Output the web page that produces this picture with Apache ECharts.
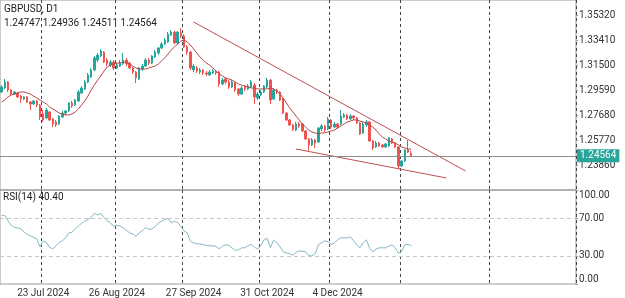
<!DOCTYPE html>
<html lang="en">
<head>
  <meta charset="UTF-8">
  <title>GBPUSD D1</title>
  <script src="https://cdn.jsdelivr.net/npm/echarts@6/dist/echarts.min.js"></script>
  <style>
    body { margin: 0; padding: 0; background: #fff; }
    #chart { width: 625px; height: 298px; }
  </style>
</head>
<body>
  <div id="chart"></div>
  <script>
    // daily candles [open, close, low, high]
    const candles = [
      [1.2944,1.2982,1.2936,1.2997],[1.2974,1.3020,1.2967,1.3043],[1.3020,1.2959,1.2944,1.3028],[1.2959,1.2928,1.2921,1.2967],
      [1.2928,1.2944,1.2921,1.2951],[1.2936,1.2906,1.2898,1.2944],[1.2913,1.2890,1.2860,1.2921],[1.2890,1.2906,1.2883,1.2913],
      [1.2906,1.2867,1.2860,1.2913],[1.2867,1.2852,1.2806,1.2875],[1.2852,1.2875,1.2844,1.2883],[1.2875,1.2844,1.2829,1.2883],
      [1.2844,1.2753,1.2730,1.2852],[1.2776,1.2730,1.2715,1.2806],[1.2745,1.2806,1.2738,1.2822],[1.2791,1.2730,1.2722,1.2799],
      [1.2738,1.2699,1.2676,1.2745],[1.2715,1.2692,1.2676,1.2730],[1.2699,1.2760,1.2692,1.2768],[1.2753,1.2783,1.2745,1.2799],
      [1.2783,1.2799,1.2768,1.2806],[1.2799,1.2860,1.2791,1.2867],[1.2860,1.2837,1.2822,1.2875],[1.2844,1.2883,1.2837,1.2890],
      [1.2875,1.2944,1.2867,1.2959],[1.2936,1.2974,1.2928,1.2989],[1.2967,1.3020,1.2959,1.3035],[1.3020,1.3074,1.3012,1.3089],
      [1.3058,1.3112,1.3051,1.3127],[1.3112,1.3204,1.3104,1.3219],[1.3188,1.3226,1.3173,1.3242],[1.3219,1.3257,1.3211,1.3272],
      [1.3249,1.3173,1.3165,1.3257],[1.3188,1.3158,1.3142,1.3204],[1.3150,1.3173,1.3135,1.3188],[1.3173,1.3127,1.3112,1.3188],
      [1.3127,1.3150,1.3119,1.3165],[1.3142,1.3165,1.3135,1.3188],[1.3158,1.3188,1.3150,1.3242],[1.3188,1.3158,1.3142,1.3204],
      [1.3165,1.3127,1.3119,1.3173],[1.3127,1.3096,1.3081,1.3135],[1.3096,1.3051,1.3012,1.3104],[1.3043,1.3127,1.3035,1.3135],
      [1.3119,1.3142,1.3104,1.3158],[1.3142,1.3188,1.3135,1.3204],[1.3188,1.3165,1.3150,1.3204],[1.3165,1.3219,1.3158,1.3226],
      [1.3211,1.3249,1.3204,1.3265],[1.3242,1.3280,1.3226,1.3288],[1.3280,1.3310,1.3272,1.3326],[1.3310,1.3341,1.3303,1.3356],
      [1.3326,1.3387,1.3318,1.3402],[1.3379,1.3402,1.3372,1.3417],[1.3402,1.3318,1.3310,1.3410],[1.3318,1.3402,1.3310,1.3410],
      [1.3395,1.3372,1.3356,1.3433],[1.3372,1.3288,1.3280,1.3387],[1.3288,1.3249,1.3226,1.3303],[1.3249,1.3127,1.3112,1.3257],
      [1.3112,1.3142,1.3096,1.3158],[1.3127,1.3104,1.3089,1.3142],[1.3096,1.3112,1.3081,1.3127],[1.3112,1.3089,1.3074,1.3119],
      [1.3089,1.3081,1.3066,1.3104],[1.3074,1.3096,1.3066,1.3112],[1.3089,1.3104,1.3081,1.3119],[1.3096,1.3089,1.3074,1.3112],
      [1.3096,1.3005,1.2982,1.3104],[1.3005,1.3035,1.2997,1.3051],[1.3043,1.3020,1.3005,1.3058],[1.3020,1.2982,1.2967,1.3035],
      [1.2982,1.3020,1.2974,1.3035],[1.3012,1.2959,1.2944,1.3020],[1.2967,1.2928,1.2913,1.2974],[1.2928,1.2974,1.2921,1.2989],
      [1.2982,1.2967,1.2951,1.2997],[1.2967,1.2989,1.2959,1.3005],[1.2982,1.3020,1.2974,1.3035],[1.2997,1.2906,1.2852,1.3012],
      [1.2898,1.2928,1.2883,1.2944],[1.2921,1.2944,1.2913,1.2959],[1.2944,1.2989,1.2936,1.2997],[1.2982,1.3035,1.2974,1.3051],
      [1.3035,1.2883,1.2852,1.3043],[1.2890,1.2959,1.2883,1.2974],[1.2959,1.2944,1.2928,1.2967],[1.2944,1.2883,1.2875,1.2951],
      [1.2890,1.2783,1.2776,1.2898],[1.2783,1.2730,1.2722,1.2791],[1.2730,1.2692,1.2684,1.2738],[1.2692,1.2661,1.2646,1.2699],
      [1.2653,1.2699,1.2646,1.2715],[1.2699,1.2684,1.2669,1.2715],[1.2699,1.2646,1.2638,1.2707],[1.2646,1.2585,1.2577,1.2653],
      [1.2585,1.2539,1.2493,1.2592],[1.2539,1.2577,1.2531,1.2592],[1.2577,1.2554,1.2516,1.2585],[1.2562,1.2669,1.2554,1.2676],
      [1.2661,1.2684,1.2646,1.2699],[1.2684,1.2653,1.2638,1.2692],[1.2661,1.2738,1.2653,1.2753],[1.2730,1.2676,1.2661,1.2738],
      [1.2676,1.2699,1.2669,1.2715],[1.2699,1.2676,1.2661,1.2707],[1.2699,1.2760,1.2692,1.2806],[1.2753,1.2768,1.2745,1.2783],
      [1.2768,1.2738,1.2730,1.2776],[1.2738,1.2760,1.2730,1.2776],[1.2760,1.2745,1.2730,1.2768],[1.2745,1.2707,1.2699,1.2753],
      [1.2707,1.2623,1.2615,1.2715],[1.2631,1.2699,1.2623,1.2715],[1.2692,1.2715,1.2676,1.2730],[1.2715,1.2569,1.2562,1.2722],
      [1.2569,1.2516,1.2501,1.2577],[1.2524,1.2554,1.2516,1.2569],[1.2554,1.2531,1.2524,1.2562],[1.2539,1.2524,1.2516,1.2547],
      [1.2524,1.2547,1.2516,1.2554],[1.2531,1.2592,1.2524,1.2600],[1.2585,1.2554,1.2547,1.2592],[1.2554,1.2524,1.2516,1.2562],
      [1.2524,1.2378,1.2355,1.2531],[1.2378,1.2417,1.2371,1.2424],[1.2417,1.2501,1.2409,1.2508],[1.2501,1.2485,1.2478,1.2577],
      [1.24747,1.24564,1.24511,1.24936]
    ];

    // moving average drawn over the candles
    const ma = [
      1.2867,1.2883,1.2906,1.2921,1.2928,1.2936,1.2944,1.2944,1.2936,1.2928,1.2913,1.2898,1.2883,1.2867,1.2852,1.2829,
      1.2814,1.2799,1.2783,1.2776,1.2768,1.2768,1.2776,1.2791,1.2814,1.2844,1.2875,1.2913,1.2959,1.2997,1.3035,1.3066,
      1.3104,1.3135,1.3150,1.3158,1.3165,1.3165,1.3173,1.3173,1.3158,1.3142,1.3127,1.3119,1.3119,1.3119,1.3127,1.3135,
      1.3142,1.3158,1.3181,1.3204,1.3234,1.3265,1.3288,1.3310,1.3333,1.3341,1.3326,1.3303,1.3272,1.3242,1.3211,1.3188,
      1.3165,1.3150,1.3127,1.3104,1.3081,1.3066,1.3051,1.3043,1.3035,1.3020,1.3005,1.2997,1.2989,1.2982,1.2974,1.2974,
      1.2967,1.2967,1.2967,1.2967,1.2974,1.2967,1.2951,1.2928,1.2898,1.2860,1.2822,1.2791,1.2760,1.2730,1.2699,1.2676,
      1.2653,1.2638,1.2631,1.2623,1.2631,1.2631,1.2638,1.2646,1.2653,1.2669,1.2684,1.2699,1.2715,1.2722,1.2730,1.2730,
      1.2722,1.2715,1.2707,1.2692,1.2676,1.2653,1.2623,1.2600,1.2585,1.2569,1.2562,1.2554,1.2539,1.2524,1.2516,1.2508,
      1.2508
    ];

    // RSI(14)
    const rsi = [
      73.0,73.0,67.1,62.4,60.2,59.7,58.6,55.5,52.8,51.2,49.6,48.0,39.5,45.9,44.3,39.0,
      37.4,40.6,44.3,45.9,49.1,54.4,54.9,58.6,61.8,64.5,66.6,68.7,70.8,75.1,73.5,75.1,
      70.8,67.1,65.0,61.3,62.4,61.8,59.7,57.1,54.4,53.3,50.7,54.4,56.5,60.2,58.1,58.6,
      61.3,65.0,66.6,68.7,69.8,65.0,66.6,65.5,61.3,56.5,54.4,45.4,43.8,42.7,42.7,41.7,
      41.1,40.6,40.6,40.1,37.4,40.1,41.7,41.1,38.5,35.8,36.4,38.5,38.5,40.6,42.2,39.0,
      37.4,40.6,47.0,48.6,38.5,46.4,44.3,39.5,34.2,33.2,32.1,30.5,33.7,35.3,34.8,34.2,
      30.0,30.0,32.1,41.7,43.8,45.9,44.9,42.2,43.8,47.0,49.1,49.1,49.1,50.2,45.9,41.7,
      38.5,43.8,47.0,38.0,34.2,37.4,38.5,38.5,38.5,40.1,41.7,38.5,32.7,34.8,41.7,42.2,
      40.40
    ];

    // wedge trend lines: [bar index, price]
    const upperLine = [[60, 1.34785], [145, 1.23402]];
    const lowerLine = [[92, 1.25082], [139, 1.22867]];

    const priceTicks = [1.23860, 1.25770, 1.27680, 1.29590, 1.31500, 1.33410, 1.35320];
    const rsiTicks = [0, 30, 70, 100];
    const rsiLevels = [30, 70];
    const dateLabels = { 13: '23 Jul 2024', 36: '26 Aug 2024', 60: '27 Sep 2024', 83: '31 Oct 2024', 105: '4 Dec 2024' };
    const monthSeps = [13, 36, 57, 81, 103, 125, 153];
    const totalSlots = 180;

    const lastClose = candles[candles.length - 1][1];
    const slots = Array.from({ length: totalSlots }, (_, i) => String(i));

    function segment(points) {
      const arr = new Array(totalSlots).fill(null);
      points.forEach(p => { arr[p[0]] = p[1]; });
      return arr;
    }

    const upColor = '#26a69a';
    const downColor = '#ef5350';
    const font = 'Roboto';

    const chart = echarts.init(document.getElementById('chart'), null, { renderer: 'canvas' });

    const sepLine = {
      show: true,
      interval: function (index) { return monthSeps.indexOf(index) >= 0; },
      lineStyle: { color: '#444', type: [3, 3], width: 1 }
    };

    const option = {
      animation: false,
      backgroundColor: '#fff',
      textStyle: { fontFamily: font },
      graphic: [
        { type: 'text', left: 4, top: 4, style: { text: 'GBPUSD, D1', fill: '#222', font: '10px Roboto' } },
        { type: 'text', left: 4, top: 18, style: { text: '1.24747 1.24936 1.24511 1.24564', fill: '#222', font: '10px Roboto' } },
        { type: 'text', left: 3, top: 192, style: { text: 'RSI(14) ' + rsi[rsi.length - 1].toFixed(2), fill: '#222', font: '10px Roboto' } }
      ],
      grid: [
        { left: 0, top: 0, width: 576, height: 190, show: true, borderColor: '#999', borderWidth: 1 },
        { left: 0, top: 190, width: 576, height: 94, show: true, borderColor: '#999', borderWidth: 1 }
      ],
      xAxis: [
        {
          type: 'category', gridIndex: 0, data: slots, boundaryGap: true,
          axisLine: { show: false }, axisTick: { show: false }, axisLabel: { show: false },
          splitLine: sepLine
        },
        {
          type: 'category', gridIndex: 1, data: slots, boundaryGap: true,
          axisLine: { show: false }, axisTick: { show: false },
          axisLabel: {
            interval: function (index) { return dateLabels[index] !== undefined; },
            formatter: function (v, idx) { return dateLabels[idx] || ''; },
            color: '#333', fontSize: 10, fontFamily: font, margin: 4
          },
          splitLine: sepLine
        }
      ],
      yAxis: [
        {
          type: 'value', gridIndex: 0, position: 'right', scale: true,
          min: 1.21950, max: 1.36466,
          axisLine: { show: false },
          axisTick: { show: true, length: 2, customValues: priceTicks, lineStyle: { color: '#999' } },
          axisLabel: {
            customValues: priceTicks, margin: 3, color: '#333', fontSize: 10, fontFamily: font,
            formatter: function (v) { return v.toFixed(5); }
          },
          splitLine: { show: false }
        },
        {
          type: 'value', gridIndex: 1, position: 'right', min: 0, max: 100,
          axisLine: { show: false },
          axisTick: { show: true, length: 2, customValues: rsiTicks, lineStyle: { color: '#999' } },
          axisLabel: {
            customValues: rsiTicks, margin: 3, color: '#333', fontSize: 10, fontFamily: font,
            formatter: function (v) {
              if (v === 100) return '{t|100.00}';
              if (v === 0) return '{b|0.00}';
              return v.toFixed(2);
            },
            rich: {
              t: { padding: [10, 0, 0, 0], color: '#333', fontSize: 10, fontFamily: font },
              b: { padding: [0, 0, 10, 0], color: '#333', fontSize: 10, fontFamily: font }
            }
          },
          splitLine: { show: false }
        }
      ],
      series: [
        {
          name: 'GBPUSD', type: 'candlestick', xAxisIndex: 0, yAxisIndex: 0,
          data: candles, barWidth: 2,
          itemStyle: { color: upColor, color0: downColor, borderColor: upColor, borderColor0: downColor, borderWidth: 1 },
          markLine: {
            silent: true, symbol: ['none', 'none'], animation: false, precision: 5,
            lineStyle: { color: '#8c8c8c', width: 1, type: 'solid' },
            label: {
              show: true, position: 'end', distance: 1,
              formatter: function () { return lastClose.toFixed(5); },
              backgroundColor: upColor, color: '#fff', padding: [2, 3, 1, 3], fontSize: 10, fontFamily: font
            },
            data: [{ yAxis: lastClose }]
          }
        },
        {
          name: 'MA', type: 'line', xAxisIndex: 0, yAxisIndex: 0, data: ma,
          symbol: 'none', lineStyle: { color: '#b54848', width: 1 }
        },
        {
          name: 'upper', type: 'line', xAxisIndex: 0, yAxisIndex: 0, data: segment(upperLine),
          connectNulls: true, symbol: 'none', lineStyle: { color: '#c0504d', width: 1 }
        },
        {
          name: 'lower', type: 'line', xAxisIndex: 0, yAxisIndex: 0, data: segment(lowerLine),
          connectNulls: true, symbol: 'none', lineStyle: { color: '#c0504d', width: 1 }
        },
        {
          name: 'RSI', type: 'line', xAxisIndex: 1, yAxisIndex: 1, data: rsi,
          symbol: 'none', lineStyle: { color: '#86b8c4', width: 1 },
          markLine: {
            silent: true, symbol: ['none', 'none'], animation: false, label: { show: false },
            lineStyle: { color: '#c8c8c8', type: [4, 3], width: 1 },
            data: rsiLevels.map(v => ({ yAxis: v }))
          }
        }
      ]
    };

    chart.setOption(option);
  </script>
</body>
</html>
